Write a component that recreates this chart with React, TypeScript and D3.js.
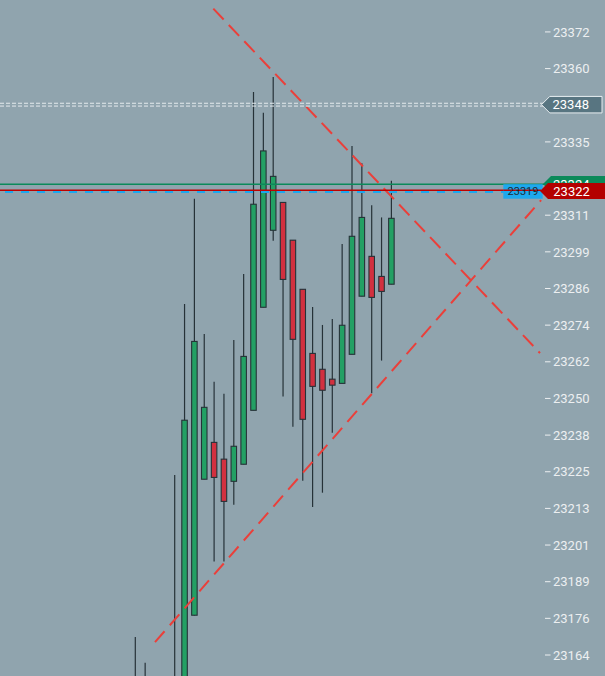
import React from "react";
import * as d3 from "d3";

// ---- data ----
const OPEN = [23155.5, 23156, 23153, 23152, 23155, 23150, 23177.4, 23222.8, 23235.1, 23229.5, 23222.1, 23227.8, 23245.8, 23280.2, 23305.9, 23315.2, 23302.6, 23286.2, 23264.8, 23259.5, 23256.2, 23254.8, 23264.5, 23283.9, 23297.2, 23290.5, 23287.9];
const HIGH = [23170.1, 23161.5, 23156, 23156.5, 23224.2, 23281.3, 23316.4, 23271.3, 23255.3, 23251.3, 23269.3, 23291.3, 23352.1, 23345.1, 23357.1, 23315.2, 23302.6, 23286.2, 23280.3, 23274.3, 23276.3, 23301.3, 23334.0, 23328.3, 23314.3, 23310.2, 23322.4];
const LOW = [23148, 23150, 23148, 23147, 23140, 23145, 23177.3, 23222.8, 23195.3, 23195.3, 23214.3, 23227.8, 23245.8, 23280.2, 23302.4, 23250.4, 23240.3, 23222.3, 23213.5, 23218.3, 23238.3, 23254.8, 23264.5, 23283.9, 23251.5, 23262.4, 23287.9];
const CLOSE = [23152, 23154, 23155, 23150, 23146, 23242.5, 23268.8, 23246.8, 23223.4, 23215.4, 23233.8, 23263.8, 23314.6, 23332.4, 23323.9, 23289.5, 23269.5, 23242.8, 23253.8, 23252.5, 23254.2, 23274.2, 23303.9, 23310.2, 23283.5, 23285.5, 23309.9];

const TICK_VALUES = [23164.12, 23176.36, 23188.59, 23200.83, 23213.06, 23225.3, 23237.53, 23249.77, 23262.0, 23274.24, 23286.47, 23298.71, 23310.94, 23323.18, 23335.41, 23347.65, 23359.88, 23372.12, 23384.35];

const TREND_UPPER = [{ i: 7.92, p: 23379.9 }, { i: 41.09, p: 23264.9 }];
const TREND_LOWER = [{ i: 2.0, p: 23168.4 }, { i: 41.2, p: 23316.0 }];

const ALERT_LEVEL = 23347.84;
const ASK_LINE = 23321.25;
const BID_LINE = 23319.28;
const ALERT_LABEL = "23348";
const GREEN_LABEL = "23324";
const RED_LABEL = "23322";
const BLUE_LABEL = "23319";

// ---- layout ----
const W = 605;
const H = 676;
const AXIS_X = 545;

const BG = "#90a4ae";
const UP = "#23a064";
const DOWN = "#d2303f";
const OUTLINE = "#263238";
const TEXT = "#eceff1";
const TREND = "#ea3f3a";

export default function App() {
  const x = d3.scaleLinear().domain([0, 26]).range([135.3, 391.4]);
  const y = d3.scaleLinear().domain([23157.11, 23382.78]).range([H, 0]);
  const fmt = d3.format(".0f");

  const candles = OPEN.map((o, i) => ({ i, o, h: HIGH[i], l: LOW[i], c: CLOSE[i] }));
  const line = d3
    .line<{ i: number; p: number }>()
    .x((d) => x(d.i))
    .y((d) => y(d.p));

  const yAlert = y(ALERT_LEVEL);
  const yAsk = y(ASK_LINE);
  const yBid = y(BID_LINE);

  const tagPath = (tipX: number, cy: number, h: number, right: number) => {
    const half = h / 2;
    return `M${tipX},${cy} L${tipX + half},${cy - half} L${right},${cy - half} L${right},${cy + half} L${tipX + half},${cy + half} Z`;
  };

  const visibleTicks = TICK_VALUES.filter(
    (v) => Math.abs(y(v) - yAsk) > 8 && Math.abs(y(v) - yBid) > 8
  );

  return (
    <svg
      width={W}
      height={H}
      style={{ position: "fixed", left: 0, top: 0, display: "block", background: BG }}
      fontFamily="Roboto, 'Noto Sans', sans-serif"
    >
      <rect x={0} y={0} width={W} height={H} fill={BG} />

      {/* candles */}
      <g>
        {candles.map((d) => {
          const cx = x(d.i);
          const top = y(Math.max(d.o, d.c));
          const bot = y(Math.min(d.o, d.c));
          return (
            <g key={d.i}>
              <line x1={cx} x2={cx} y1={y(d.h)} y2={y(d.l)} stroke={OUTLINE} strokeWidth={1.2} />
              <rect
                x={cx - 2.75}
                y={top}
                width={5.5}
                height={Math.max(1, bot - top)}
                fill={d.c >= d.o ? UP : DOWN}
                stroke={OUTLINE}
                strokeWidth={1.1}
              />
            </g>
          );
        })}
      </g>

      {/* trend lines */}
      <path d={line(TREND_UPPER) || ""} stroke={TREND} strokeWidth={2} strokeDasharray="15 7.5" fill="none" />
      <path d={line(TREND_LOWER) || ""} stroke={TREND} strokeWidth={2} strokeDasharray="14.5 8" fill="none" />

      {/* alert level double dashed line */}
      <line x1={0} x2={548} y1={yAlert - 1.4} y2={yAlert - 1.4} stroke="#e4eaed" strokeWidth={1} strokeDasharray="4 2" />
      <line x1={0} x2={548} y1={yAlert + 1.4} y2={yAlert + 1.4} stroke="#e4eaed" strokeWidth={1} strokeDasharray="4 2" />

      {/* price lines */}
      <line x1={0} x2={546} y1={yAsk} y2={yAsk} stroke="#0b8a5a" strokeWidth={1.6} />
      <line x1={0} x2={541} y1={yBid} y2={yBid} stroke="#c00000" strokeWidth={1.6} />
      <line x1={5} x2={541} y1={yBid + 1.7} y2={yBid + 1.7} stroke="#1ea8ee" strokeWidth={2} strokeDasharray="8 8" />

      {/* axis labels */}
      <g fontSize={13} fill={TEXT}>
        {visibleTicks.map((v) => (
          <g key={v}>
            <line x1={AXIS_X} x2={AXIS_X + 5.5} y1={y(v)} y2={y(v)} stroke={TEXT} strokeWidth={1} />
            <text x={553} y={y(v)} dy="0.36em">
              {fmt(v)}
            </text>
          </g>
        ))}
      </g>

      {/* alert tag */}
      <path d={tagPath(541.5, yAlert, 16.5, 602)} fill="#587581" stroke="#e8eef1" strokeWidth={1} />
      <text x={552.5} y={yAlert} dy="0.36em" fontSize={13} fill="#ffffff">
        {ALERT_LABEL}
      </text>

      {/* green tag */}
      <path d={tagPath(543, yAsk - 0.3, 16, W)} fill="#0b8a5a" />
      <text x={553} y={yAsk - 0.3} dy="0.36em" fontSize={13} fill="#ffffff">
        {GREEN_LABEL}
      </text>

      {/* blue tag */}
      <rect x={503.3} y={yBid - 6} width={39.4} height={14.5} fill="#1ea8ee" />
      <line x1={503.3} x2={541} y1={yBid} y2={yBid} stroke="#c00000" strokeWidth={1.6} />
      <text x={523} y={yBid + 1.2} dy="0.36em" fontSize={11} fill="#1c2a33" textAnchor="middle">
        {BLUE_LABEL}
      </text>

      {/* red tag */}
      <path d={tagPath(540, yBid + 0.8, 16, W)} fill="#b40000" />
      <text x={553.3} y={yBid + 0.8} dy="0.36em" fontSize={13} fill="#ffffff">
        {RED_LABEL}
      </text>
    </svg>
  );
}
